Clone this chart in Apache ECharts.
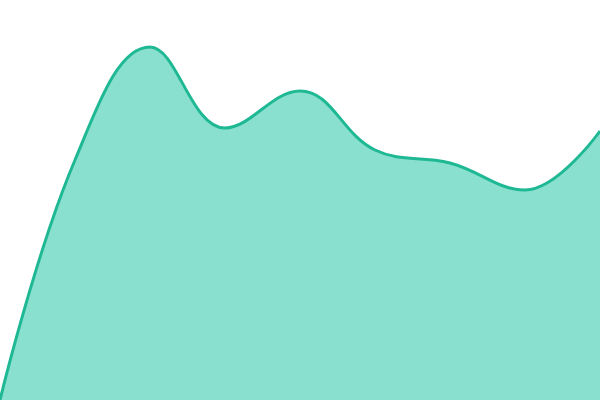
<!DOCTYPE html>
<html><head><meta charset="utf-8">
<script src="https://cdn.jsdelivr.net/npm/echarts@6/dist/echarts.min.js"></script>
<style>html,body{margin:0;padding:0;background:#fff}#c{width:600px;height:400px}</style>
</head><body><div id="c"></div>
<script>
const categories = ['A','B','C','D','E','F','G','H','I'];
const values = [0, 240, 353, 272, 309, 250, 237, 210, 269];
const chart = echarts.init(document.getElementById('c'));
chart.setOption({
  animation: false,
  grid: {left: 0, right: 0, top: 0, bottom: 0},
  xAxis: {type: 'category', data: categories, boundaryGap: false, show: false},
  yAxis: {type: 'value', min: 0, max: 400, show: false},
  series: [{
    type: 'line', data: values, smooth: 0.4, symbol: 'none',
    lineStyle: {color: '#1fb894', width: 3},
    areaStyle: {color: '#89e0cf', opacity: 1}
  }]
});
</script></body></html>
